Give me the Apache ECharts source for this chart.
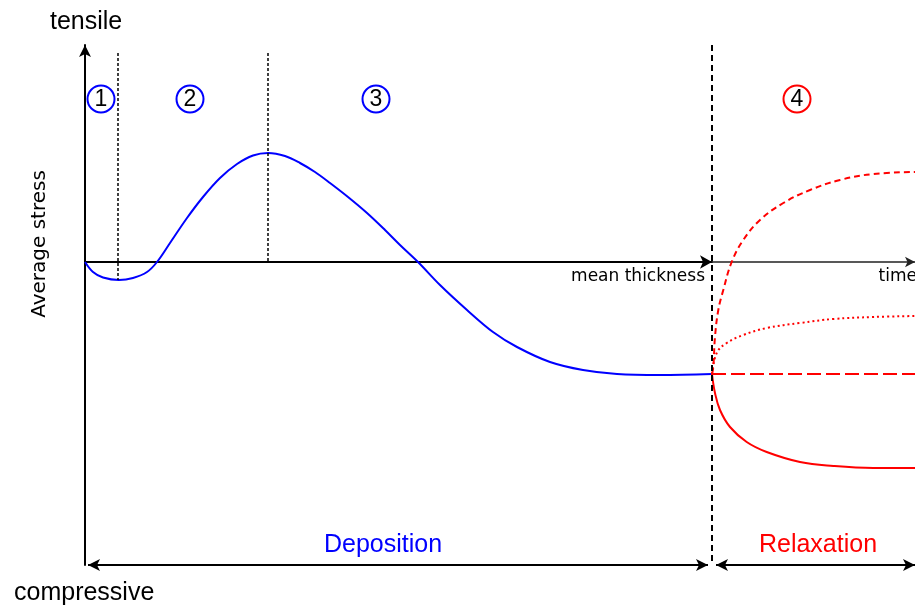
<!DOCTYPE html>
<html>
<head>
<meta charset="utf-8">
<script src="https://cdn.jsdelivr.net/npm/echarts@6/dist/echarts.min.js"></script>
<style>html,body{margin:0;padding:0;background:#fff}#c{width:915px;height:605px}</style>
</head>
<body>
<div id="c"></div>
<script>
// Deposition stage: average stress vs mean thickness (arbitrary units)
const depThickness = [0, 0.08, 0.18, 0.34, 0.48, 0.62, 0.72, 0.85, 1.02, 1.18, 1.35, 1.52, 1.68, 1.83, 2.00, 2.15, 2.30, 2.45, 2.63, 2.82, 3.00, 3.15, 3.33, 3.55, 3.82, 4.08, 4.32, 4.65, 4.98, 5.32, 5.75, 6.27];
const depStress    = [0, -0.10, -0.155, -0.18, -0.16, -0.10, 0, 0.19, 0.44, 0.65, 0.84, 0.98, 1.065, 1.09, 1.06, 0.99, 0.90, 0.79, 0.65, 0.49, 0.32, 0.17, 0, -0.23, -0.48, -0.70, -0.85, -1.00, -1.08, -1.12, -1.13, -1.12];
// Relaxation stage: average stress vs time (arbitrary units)
const relTimeUp  = [0, 0.013, 0.03, 0.063, 0.113, 0.197, 0.313, 0.48, 0.713, 0.98, 1.28, 1.613, 2.03];
const relUp      = [-1.12, -1.05, -0.75, -0.48, -0.28, 0.00, 0.22, 0.42, 0.59, 0.72, 0.82, 0.88, 0.90];
const relTimeDot = [0, 0.047, 0.147, 0.313, 0.547, 0.88, 1.213, 1.613, 2.03];
const relDot     = [-1.12, -0.91, -0.81, -0.73, -0.66, -0.61, -0.57, -0.55, -0.54];
const relTimeFlat = [0, 2.03];
const relFlat     = [-1.12, -1.12];
const relTimeDown = [0, 0.03, 0.08, 0.18, 0.347, 0.547, 0.88, 1.213, 1.613, 2.03];
const relDown     = [-1.12, -1.31, -1.48, -1.65, -1.80, -1.90, -2.00, -2.04, -2.06, -2.06];
// Stage boundaries (thickness) and labels
const stageBounds = [0.33, 1.83];
const stageLabels = ['1', '2', '3', '4'];

const zip = (a, b) => a.map((v, i) => [v, b[i]]);
const BLUE = '#0000ff', RED = '#ff0000';
const yMin = -3.03, yMax = 2.17, depMax = 6.27, relMax = 2.03;

const option = {
  animation: false,
  grid: [
    {left: 85, right: 203, top: 45, bottom: 40},
    {left: 712, right: 0, top: 45, bottom: 40}
  ],
  xAxis: [
    {gridIndex: 0, type: 'value', min: 0, max: depMax,
      axisLine: {show: true, onZero: true, symbol: ['none', 'arrow'], symbolSize: [10, 12], lineStyle: {color: '#000', width: 2}},
      axisTick: {show: false}, axisLabel: {show: false}, splitLine: {show: false}},
    {gridIndex: 1, type: 'value', min: 0, max: relMax,
      axisLine: {show: true, onZero: true, symbol: ['none', 'arrow'], symbolSize: [8, 10], lineStyle: {color: '#222', width: 1.5}},
      axisTick: {show: false}, axisLabel: {show: false}, splitLine: {show: false}}
  ],
  yAxis: [
    {gridIndex: 0, type: 'value', min: yMin, max: yMax,
      axisLine: {show: true, onZero: false, symbol: ['none', 'arrow'], symbolSize: [9, 12], lineStyle: {color: '#000', width: 2}},
      axisTick: {show: false}, axisLabel: {show: false}, splitLine: {show: false}},
    {gridIndex: 1, type: 'value', min: yMin, max: yMax, show: false}
  ],
  series: [
    {type: 'line', xAxisIndex: 0, yAxisIndex: 0, data: zip(depThickness, depStress), smooth: 0.35,
      showSymbol: false, clip: false, lineStyle: {color: BLUE, width: 2}, z: 3,
      markLine: {silent: true, symbol: ['none', 'none'], label: {show: false}, animation: false,
        data: [
          [{coord: [stageBounds[0], 2.09], lineStyle: {color: '#000', width: 1.5, type: [3, 2]}}, {coord: [stageBounds[0], -0.18]}],
          [{coord: [stageBounds[1], 2.09], lineStyle: {color: '#000', width: 1.5, type: [3, 2]}}, {coord: [stageBounds[1], 0]}],
          [{coord: [depMax, yMax], lineStyle: {color: '#000', width: 2, type: [6, 4]}}, {coord: [depMax, yMin]}],
          [{coord: [0.03, yMin], symbol: 'arrow', symbolSize: [9, 12], lineStyle: {color: '#000', width: 2, type: 'solid'}},
           {coord: [6.23, yMin], symbol: 'arrow', symbolSize: [9, 12]}]
        ]}},
    {type: 'line', xAxisIndex: 1, yAxisIndex: 1, data: zip(relTimeUp, relUp), smooth: 0.4,
      showSymbol: false, lineStyle: {color: RED, width: 2, type: [6, 4]}},
    {type: 'line', xAxisIndex: 1, yAxisIndex: 1, data: zip(relTimeDot, relDot), smooth: 0.4,
      showSymbol: false, lineStyle: {color: RED, width: 2, type: [2, 3]}},
    {type: 'line', xAxisIndex: 1, yAxisIndex: 1, data: zip(relTimeFlat, relFlat),
      showSymbol: false, lineStyle: {color: RED, width: 2, type: [14, 5]}},
    {type: 'line', xAxisIndex: 1, yAxisIndex: 1, data: zip(relTimeDown, relDown), smooth: 0.4,
      showSymbol: false, clip: false, lineStyle: {color: RED, width: 2},
      markLine: {silent: true, label: {show: false}, animation: false,
        data: [
          [{coord: [0.04, yMin], symbol: 'arrow', symbolSize: [9, 12], lineStyle: {color: '#000', width: 2, type: 'solid'}},
           {coord: [relMax, yMin], symbol: 'arrow', symbolSize: [9, 12]}]
        ]}}
  ],
  graphic: [
    {type: 'text', left: 50, top: 10, style: {text: 'tensile', font: '25px "Liberation Sans", Arial', fill: '#000'}},
    {type: 'text', left: 14, top: 581, style: {text: 'compressive', font: '25px "Liberation Sans", Arial', fill: '#000'}},
    {type: 'text', x: 40, y: 244, rotation: Math.PI / 2,
      style: {text: 'Average stress', font: '20px "DejaVu Sans"', fill: '#000', align: 'center', verticalAlign: 'middle'}},
    {type: 'text', x: 705, y: 277, style: {text: 'mean thickness', font: '17px "DejaVu Sans"', fill: '#000', align: 'right', verticalAlign: 'middle'}},
    {type: 'text', x: 917, y: 277, style: {text: 'time', font: '17px "DejaVu Sans"', fill: '#000', align: 'right', verticalAlign: 'middle'}},
    {type: 'text', x: 383, y: 545, style: {text: 'Deposition', font: '25px "Liberation Sans", Arial', fill: BLUE, align: 'center', verticalAlign: 'middle'}},
    {type: 'text', x: 818, y: 545, style: {text: 'Relaxation', font: '25px "Liberation Sans", Arial', fill: RED, align: 'center', verticalAlign: 'middle'}},
    ...[[101, BLUE], [190, BLUE], [376, BLUE], [797, RED]].flatMap(([cx, col], i) => [
      {type: 'circle', shape: {cx: cx, cy: 99, r: 13.5}, style: {fill: '#fff', stroke: col, lineWidth: 2}},
      {type: 'text', x: cx, y: 100, style: {text: stageLabels[i], font: '23px "Liberation Sans", Arial', fill: '#000', align: 'center', verticalAlign: 'middle'}}
    ])
  ]
};
echarts.init(document.getElementById('c')).setOption(option);
</script>
</body>
</html>
